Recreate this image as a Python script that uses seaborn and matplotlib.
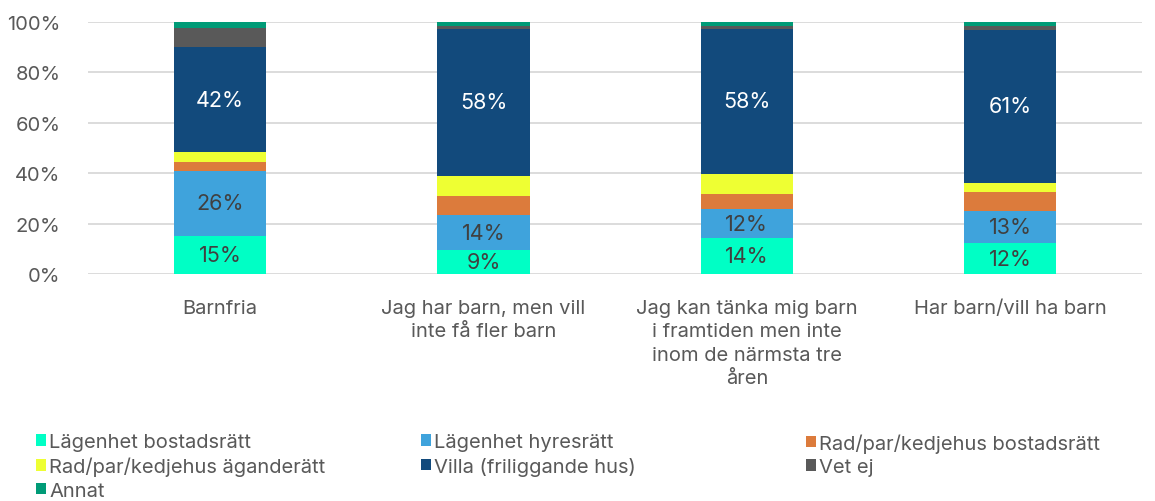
import matplotlib.pyplot as plt
import pandas as pd
import seaborn as sns

categories = [
    'Barnfria',
    'Jag har barn, men vill\ninte få fler barn',
    'Jag kan tänka mig barn\ni framtiden men inte\ninom de närmsta tre\nåren',
    'Har barn/vill ha barn',
]
series = [
    'Lägenhet bostadsrätt',
    'Lägenhet hyresrätt',
    'Rad/par/kedjehus bostadsrätt',
    'Rad/par/kedjehus äganderätt',
    'Villa (friliggande hus)',
    'Vet ej',
    'Annat',
]
lagenhet_bostadsratt = [15.3, 9.4, 14.2, 12.2]
lagenhet_hyresratt = [25.5, 14.2, 11.6, 13.0]
rad_bostadsratt = [3.8, 7.3, 6.0, 7.4]
rad_aganderatt = [3.7, 8.2, 7.9, 3.7]
villa = [41.7, 58.3, 57.7, 60.6]
vet_ej = [7.8, 0.9, 1.2, 1.6]
annat = [2.2, 1.7, 1.4, 1.5]
labelled = ['Lägenhet bostadsrätt', 'Lägenhet hyresrätt', 'Villa (friliggande hus)']

colors = ['#00FFC5', '#3FA3DC', '#DC7B3C', '#EEFF33', '#124A7C', '#595959', '#009B77']
text_colors = {'Lägenhet bostadsrätt': '#404040', 'Lägenhet hyresrätt': '#404040',
               'Villa (friliggande hus)': 'white'}

values = [lagenhet_bostadsratt, lagenhet_hyresratt, rad_bostadsratt, rad_aganderatt,
          villa, vet_ej, annat]
df = pd.DataFrame(dict(zip(series, values)))
df['Kategori'] = categories
cum = df[series].cumsum(axis=1)

sns.set_style('white')
plt.rcParams['font.family'] = ['Inter', 'DejaVu Sans']
plt.rcParams['font.size'] = 14.5
grey = '#595959'

fig = plt.figure(figsize=(11.55, 5.02), dpi=100)
ax = fig.add_axes([0.0766, 0.452, 0.912, 0.502])

# stacked bars: draw cumulative totals from the top down
for name, color in reversed(list(zip(series, colors))):
    plot_df = pd.DataFrame({'Kategori': categories, 'Andel': cum[name].values})
    sns.barplot(data=plot_df, x='Kategori', y='Andel', color=color, saturation=1,
                width=0.35, label=name, ax=ax, zorder=3, linewidth=0, edgecolor='none')

for name in labelled:
    for i, (v, top) in enumerate(zip(df[name], cum[name])):
        ax.text(i, top - v / 2, f'{round(v)}%', ha='center', va='center',
                color=text_colors[name], fontsize=15.5, zorder=4)

ax.set_ylim(0, 100)
ax.set_xlim(-0.5, 3.5)
ax.set_yticks(range(0, 101, 20))
ax.set_yticklabels([f'{v}%' for v in range(0, 101, 20)], color=grey)
ax.set_xticks(range(len(categories)))
ax.set_xticklabels(categories, color=grey, linespacing=1.38)
ax.yaxis.grid(True, color='#D9D9D9', linewidth=1.3)
ax.set_axisbelow(True)
ax.tick_params(axis='y', length=0, pad=20)
ax.tick_params(axis='x', length=0, pad=18)
ax.set_xlabel('')
ax.set_ylabel('')
for s in ax.spines.values():
    s.set_visible(False)
ax.legend().remove()

handles, labels = ax.get_legend_handles_labels()
lookup = dict(zip(labels, handles))
columns = [[series[0], series[3], series[6]], [series[1], series[4]], [series[2], series[5]]]
for x0, col in zip([26, 411, 796], columns):
    fig.legend([lookup[n] for n in col], col, loc='upper left',
               bbox_to_anchor=(x0 / 1155, 1 - 424 / 502), frameon=False,
               handlelength=0.5, handleheight=0.5, handletextpad=0.15,
               labelspacing=0.28, borderpad=0, labelcolor=grey, fontsize=14.5)

fig.savefig('out.png', dpi=100)
